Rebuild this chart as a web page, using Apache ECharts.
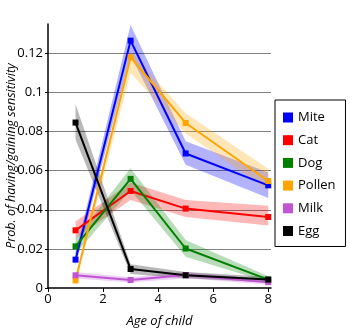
<!DOCTYPE html>
<html>
<head>
<meta charset="utf-8">
<script src="https://cdn.jsdelivr.net/npm/echarts@6/dist/echarts.min.js"></script>
<style>html,body{margin:0;padding:0;background:#fff}#c{width:350px;height:330px}</style>
</head>
<body>
<div id="c"></div>
<script>
const ages = [1, 3, 5, 8];
const xTicks = [0, 2, 4, 6, 8];
const yTicks = [0, 0.02, 0.04, 0.06, 0.08, 0.1, 0.12];

const names = ['Mite', 'Cat', 'Dog', 'Pollen', 'Milk', 'Egg'];
const colors = ['#0000ff', '#ff0000', '#008000', '#ffa500', '#bf55d3', '#000000'];
const bandColors = ['rgba(0,0,255,0.3)', 'rgba(255,0,0,0.28)', 'rgba(0,128,0,0.28)', 'rgba(255,165,0,0.28)', 'rgba(191,85,211,0.28)', 'rgba(0,0,0,0.28)'];

const mite   = [0.0145, 0.1265, 0.0688, 0.0525];
const miteLo = [0.0115, 0.1190, 0.0630, 0.0460];
const miteHi = [0.0180, 0.1345, 0.0750, 0.0590];

const cat    = [0.0295, 0.0496, 0.0406, 0.0363];
const catLo  = [0.0255, 0.0450, 0.0363, 0.0320];
const catHi  = [0.0340, 0.0540, 0.0450, 0.0420];

const dog    = [0.0213, 0.0558, 0.0202, 0.0043];
const dogLo  = [0.0175, 0.0500, 0.0160, 0.0030];
const dogHi  = [0.0255, 0.0612, 0.0245, 0.0060];

const pollen   = [0.0039, 0.1180, 0.0844, 0.0547];
const pollenLo = [0.0020, 0.1100, 0.0790, 0.0500];
const pollenHi = [0.0060, 0.1210, 0.0894, 0.0610];

const milk   = [0.0065, 0.0041, 0.0066, 0.0030];
const milkLo = [0.0048, 0.0028, 0.0050, 0.0018];
const milkHi = [0.0082, 0.0055, 0.0082, 0.0045];

const egg    = [0.0846, 0.0097, 0.0065, 0.0043];
const eggLo  = [0.0760, 0.0072, 0.0050, 0.0030];
const eggHi  = [0.0940, 0.0122, 0.0082, 0.0058];

const mids = [mite, cat, dog, pollen, milk, egg];
const los = [miteLo, catLo, dogLo, pollenLo, milkLo, eggLo];
const his = [miteHi, catHi, dogHi, pollenHi, milkHi, eggHi];

const FONT = 'Open Sans';
const series = [];
names.forEach((nm, k) => {
  series.push({
    name: nm + ' band',
    type: 'custom',
    silent: true,
    data: [[ages[0], los[k][0]]],
    renderItem: function (params, api) {
      const up = ages.map((a, i) => api.coord([a, his[k][i]]));
      const dn = ages.map((a, i) => api.coord([a, los[k][i]])).reverse();
      return { type: 'polygon', shape: { points: up.concat(dn) }, style: { fill: bandColors[k] } };
    }
  });
  series.push({
    name: nm,
    type: 'line',
    data: ages.map((a, i) => [a, mids[k][i]]),
    symbol: 'rect',
    symbolSize: 6,
    showSymbol: true,
    lineStyle: { color: colors[k], width: 2 },
    itemStyle: { color: colors[k] },
    animation: false
  });
});

const chart = echarts.init(document.getElementById('c'));
chart.setOption({
  animation: false,
  textStyle: { fontFamily: FONT },
  grid: { left: 48, right: 79, top: 24, bottom: 42, containLabel: false, outerBoundsMode: 'none' },
  legend: {
    data: names,
    orient: 'vertical',
    left: 275,
    top: 100,
    icon: 'rect',
    itemWidth: 10,
    itemHeight: 10,
    itemGap: 7.7,
    padding: [10, 10, 8, 8],
    borderColor: '#000',
    borderWidth: 1,
    selectedMode: false,
    textStyle: { fontFamily: FONT, fontSize: 13, color: '#000', lineHeight: 15 }
  },
  xAxis: {
    type: 'value',
    min: 0,
    max: 8.1,
    interval: 2,
    name: 'Age of child',
    nameLocation: 'middle',
    nameGap: 27,
    nameMoveOverlap: false,
    nameTextStyle: { fontFamily: FONT, fontSize: 13, fontStyle: 'italic', color: '#000' },
    axisLine: { lineStyle: { color: '#000', width: 1.5 } },
    axisTick: { show: true, inside: false, length: 4, lineStyle: { color: '#000' }, customValues: xTicks },
    axisLabel: { fontFamily: FONT, fontSize: 13, color: '#000', margin: 5, customValues: xTicks },
    splitLine: { show: false }
  },
  yAxis: {
    type: 'value',
    min: 0,
    max: 0.135,
    interval: 0.02,
    name: 'Prob. of having/gaining sensitivity',
    nameLocation: 'middle',
    nameGap: 30,
    nameMoveOverlap: false,
    nameTextStyle: { fontFamily: FONT, fontSize: 12.5, fontStyle: 'italic', color: '#000' },
    axisLine: { show: true, lineStyle: { color: '#000', width: 1.5 } },
    axisTick: { show: true, inside: false, length: 3, lineStyle: { color: '#000' }, customValues: yTicks },
    axisLabel: { fontFamily: FONT, fontSize: 13, color: '#000', margin: 5, customValues: yTicks },
    splitLine: { show: true, showMinLine: false, lineStyle: { color: '#808080', width: 1 } }
  },
  series: series
});
</script>
</body>
</html>
